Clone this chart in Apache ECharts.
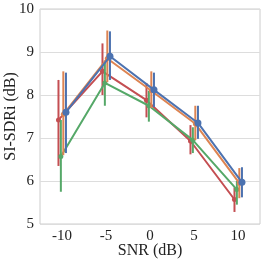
<!DOCTYPE html>
<html><head><meta charset="utf-8">
<script src="https://cdn.jsdelivr.net/npm/echarts@6/dist/echarts.min.js"></script>
<style>html,body{margin:0;padding:0;background:#fff}#c{width:265px;height:263px}</style>
</head><body><div id="c"></div>
<script>
const categories = ['-10', '-5', '0', '5', '10'];
const snrValues = [-10, -5, 0, 5, 10];
const redMean = [7.42, 8.55, 7.88, 6.93, 5.57];
const redLo = [6.35, 8.0, 7.48, 6.62, 5.28];
const redHi = [8.35, 9.2, 8.28, 7.3, 5.85];
const greenMean = [6.57, 8.28, 7.75, 6.95, 5.8];
const greenLo = [5.75, 7.75, 7.38, 6.65, 5.45];
const greenHi = [7.42, 8.8, 8.1, 7.25, 6.0];
const orangeMean = [7.55, 8.85, 8.1, 7.33, 5.95];
const orangeLo = [6.6, 8.3, 7.7, 6.95, 5.6];
const orangeHi = [8.55, 9.5, 8.55, 7.75, 6.3];
const blueMean = [7.6, 8.9, 8.12, 7.35, 5.97];
const blueLo = [6.65, 8.35, 7.72, 6.98, 5.62];
const blueHi = [8.52, 9.48, 8.52, 7.75, 6.32];
const yTicks = [5, 6, 7, 8, 9, 10];

const groups = [
  {name: 'red', color: '#C44E52', mean: redMean, lo: redLo, hi: redHi, off: -0.4, sym: 5},
  {name: 'green', color: '#55A868', mean: greenMean, lo: greenLo, hi: greenHi, off: -0.13, sym: 5},
  {name: 'orange', color: '#DD8452', mean: orangeMean, lo: orangeLo, hi: orangeHi, off: 0.15, sym: 5},
  {name: 'blue', color: '#4C72B0', mean: blueMean, lo: blueLo, hi: blueHi, off: 0.45, sym: 7}
];
const font = 'Liberation Serif';
const series = [];
groups.forEach((g, gi) => {
  series.push({
    type: 'custom', xAxisIndex: 1, z: 2 + gi * 2,
    data: snrValues.map((x, i) => [x + g.off, g.lo[i], g.hi[i]]),
    renderItem: (params, api) => {
      const p1 = api.coord([api.value(0), api.value(1)]);
      const p2 = api.coord([api.value(0), api.value(2)]);
      return {type: 'line', shape: {x1: p1[0], y1: p1[1], x2: p2[0], y2: p2[1]},
        style: {stroke: g.color, lineWidth: 2}};
    }
  });
  series.push({
    type: 'line', xAxisIndex: 1, z: 3 + gi * 2,
    data: snrValues.map((x, i) => [x + g.off, g.mean[i]]),
    symbol: 'circle', symbolSize: g.sym,
    lineStyle: {color: g.color, width: 2},
    itemStyle: {color: g.color},
    animation: false
  });
});

const chart = echarts.init(document.getElementById('c'));
chart.setOption({
  animation: false,
  grid: {left: 40, right: 5, top: 9, bottom: 39, show: true, borderColor: '#cccccc', borderWidth: 1,
         containLabel: false, outerBoundsMode: 'none'},
  xAxis: [
    {type: 'category', data: categories, boundaryGap: true,
     name: 'SNR (dB)', nameLocation: 'middle', nameGap: 19, nameMoveOverlap: false,
     nameTextStyle: {fontFamily: font, fontSize: 16, color: '#222'},
     axisLine: {show: false}, axisTick: {show: false},
     axisLabel: {fontFamily: font, fontSize: 15, color: '#222', margin: 5},
     splitLine: {show: false}},
    {type: 'value', min: -12.5, max: 12.5, show: false}
  ],
  yAxis: {type: 'value', min: 5, max: 10, interval: 1,
    name: 'SI-SDRi (dB)', nameLocation: 'middle', nameGap: 21, nameMoveOverlap: false,
    nameTextStyle: {fontFamily: font, fontSize: 16, color: '#222'},
    axisLine: {show: false}, axisTick: {show: false},
    axisLabel: {fontFamily: font, fontSize: 15, color: '#222', margin: 6},
    splitLine: {lineStyle: {color: '#dddddd', width: 1}}},
  series: series
});
</script></body></html>
